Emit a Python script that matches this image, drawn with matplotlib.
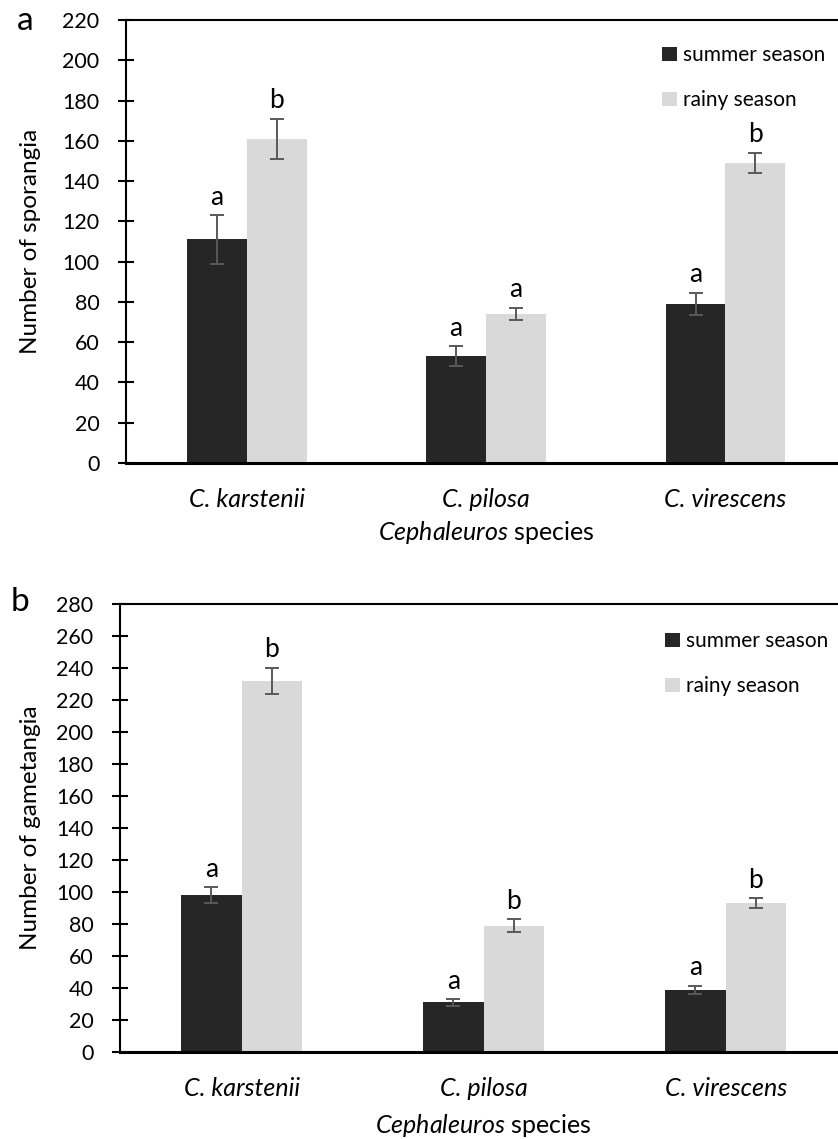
import numpy as np
import matplotlib
matplotlib.use('Agg')
import matplotlib.pyplot as plt

plt.rcParams['font.family'] = ['Lato', 'DejaVu Sans']
plt.rcParams['mathtext.fontset'] = 'custom'
plt.rcParams['mathtext.rm'] = 'Lato'
plt.rcParams['mathtext.it'] = 'Lato:italic'

species = ['C. karstenii', 'C. pilosa', 'C. virescens']
seasons = ['summer season', 'rainy season']

# panel a : sporangia
spor_summer = [111, 53, 79]
spor_summer_err = [12, 5, 5.5]
spor_rainy = [161, 74, 149]
spor_rainy_err = [10, 3, 5]
spor_summer_letters = ['a', 'a', 'a']
spor_rainy_letters = ['b', 'a', 'b']

# panel b : gametangia
game_summer = [98, 31, 39]
game_summer_err = [5, 2, 2.5]
game_rainy = [232, 79, 93]
game_rainy_err = [8, 4, 3]
game_summer_letters = ['a', 'a', 'a']
game_rainy_letters = ['b', 'b', 'b']

dark = '#262626'
light = '#d9d9d9'
err_col = '#595959'
W, H = 838, 1139


def panel(ax, summer, summer_err, rainy, rainy_err, l_s, l_r, ymax, ylabel, xlim, leg_xy, xlab_y):
    x = np.arange(len(species))
    w = 0.25
    ax.bar(x - w/2, summer, w, color=dark, label=seasons[0])
    ax.bar(x + w/2, rainy, w, color=light, label=seasons[1])
    for xs, vals, errs, letters in [(x - w/2, summer, summer_err, l_s),
                                     (x + w/2, rainy, rainy_err, l_r)]:
        ax.errorbar(xs, vals, yerr=errs, fmt='none', ecolor=err_col,
                    elinewidth=1.4, capsize=4.7, capthick=1.4)
        for xi, v, e, t in zip(xs, vals, errs, letters):
            ax.annotate(t, (xi, v + e), xytext=(0, 4), textcoords='offset points',
                        ha='center', va='bottom', fontsize=19)
    ax.set_ylim(0, ymax)
    ax.set_xlim(*xlim)
    ax.set_yticks(np.arange(0, ymax + 1, 20))
    ax.set_xticks(x)
    ax.set_xticklabels(species, style='italic', fontsize=18)
    ax.tick_params(axis='x', length=0, pad=18)
    ax.tick_params(axis='y', direction='inout', length=12, width=1.5, labelsize=15.5, pad=13)
    ax.spines['right'].set_visible(False)
    ax.spines['left'].set_linewidth(1.5)
    ax.spines['top'].set_linewidth(1.5)
    ax.spines['bottom'].set_linewidth(2.2)
    ax.set_ylabel(ylabel, fontsize=17.5)
    ax.set_xlabel(r'$\it{Cephaleuros}$ species', fontsize=18)
    # centre the axis title under the middle species
    ax.xaxis.set_label_coords((1 - xlim[0]) / (xlim[1] - xlim[0]), xlab_y)
    ax.legend(loc='upper left', bbox_to_anchor=leg_xy, frameon=False,
              fontsize=15, handlelength=0.7, handleheight=0.7,
              handletextpad=0.3, labelspacing=1.2, borderaxespad=0)


fig = plt.figure(figsize=(W/100, H/100), dpi=100)

ax1 = fig.add_axes([126/W, 1 - 463/H, 1 - 126/W, 443/H])
panel(ax1, spor_summer, spor_summer_err, spor_rainy, spor_rainy_err,
      spor_summer_letters, spor_rainy_letters, 220, 'Number of sporangia',
      (-0.504, 2.47), (0.741, 0.962), -0.126)
ax1.yaxis.set_label_coords(-0.119, 0.5)
fig.text(25/W, 1 - 21/H, 'a', fontsize=24, ha='center', va='center')

ax2 = fig.add_axes([120/W, 1 - 1052/H, 1 - 120/W, 448/H])
panel(ax2, game_summer, game_summer_err, game_rainy, game_rainy_err,
      game_summer_letters, game_rainy_letters, 280, 'Number of gametangia',
      (-0.503, 2.464), (0.748, 0.958), -0.135)
ax2.yaxis.set_label_coords(-0.110, 0.5)
fig.text(20/W, 1 - 602/H, 'b', fontsize=24, ha='center', va='center')

fig.savefig('out.png', dpi=100)
